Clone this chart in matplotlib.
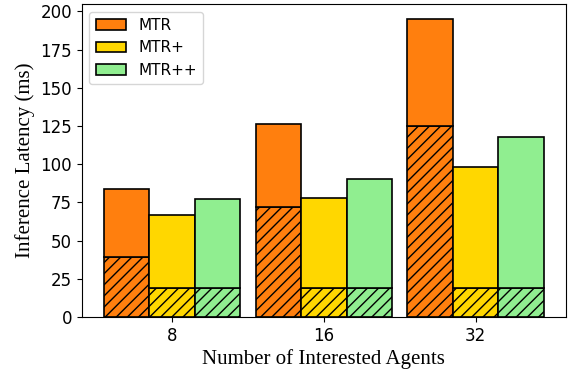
import matplotlib
matplotlib.use("Agg")
import matplotlib.pyplot as plt
import numpy as np

agents = ["8", "16", "32"]
methods = ["MTR", "MTR+", "MTR++"]
colors = ["#ff7f0e", "#ffd700", "#90ee90"]

# total latency per method (ms) and the hatched (shared encoder) part
total_latency = {
    "MTR": [84, 126, 195],
    "MTR+": [67, 78, 98],
    "MTR++": [77, 90, 118],
}
base_latency = {
    "MTR": [39, 72, 125],
    "MTR+": [19, 19, 19],
    "MTR++": [19, 19, 19],
}

plt.rcParams["hatch.linewidth"] = 1.0

fig, ax = plt.subplots(figsize=(5.68, 3.70), dpi=100)
fig.subplots_adjust(left=0.144, right=0.9965, top=0.989, bottom=0.143)

x = np.arange(len(agents))
width = 0.3
for i, (name, color) in enumerate(zip(methods, colors)):
    pos = x + (i - 1) * width
    base = np.array(base_latency[name])
    top = np.array(total_latency[name]) - base
    ax.bar(pos, base, width, color=color, edgecolor="black", linewidth=1.2, hatch="///")
    ax.bar(pos, top, width, bottom=base, color=color, edgecolor="black",
           linewidth=1.2, label=name)

ax.set_xticks(x)
ax.set_xticklabels(agents)
ax.tick_params(labelsize=12)
ax.set_xlabel("Number of Interested Agents", family="Liberation Serif", fontsize=15,
              labelpad=3)
ax.set_ylabel("Inference Latency (ms)", family="Liberation Serif", fontsize=15)
ax.legend(loc="upper left", fontsize=11)

fig.savefig("out.png", dpi=100)
